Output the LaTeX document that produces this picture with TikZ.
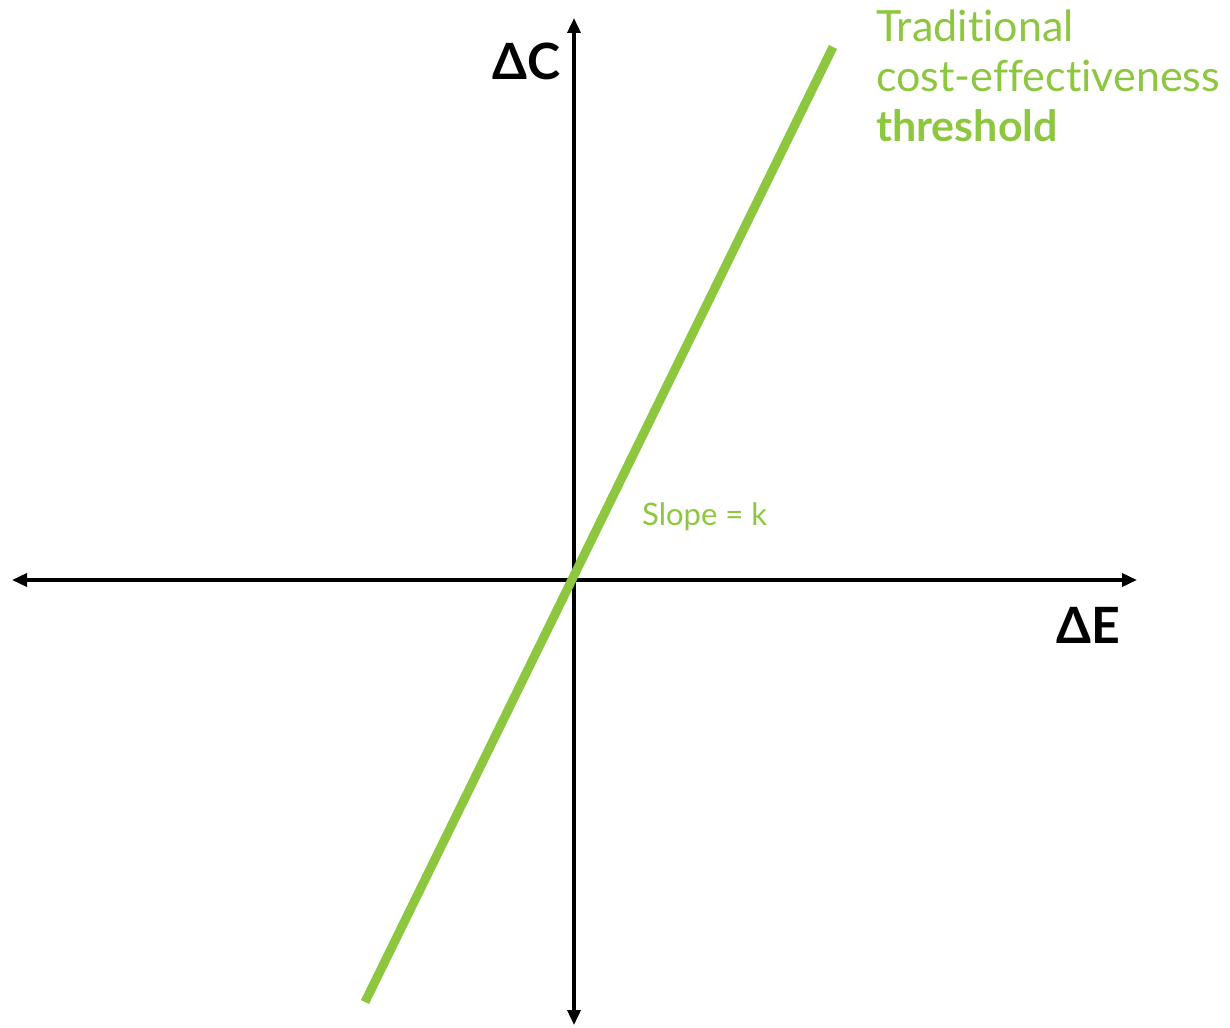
\documentclass[tikz,border=0pt]{standalone}
\usepackage{fontspec}
\setmainfont[Ligatures=NoCommon]{Lato}
\usetikzlibrary{arrows.meta,positioning}
\definecolor{kgreen}{HTML}{8DC63F}

\begin{document}
\begin{tikzpicture}[x=1pt,y=-1pt,
    axis/.style={line width=3.5pt,{Triangle[length=15pt,width=13pt]}-{Triangle[length=15pt,width=13pt]}},
    threshold/.style={line width=9pt,kgreen},
    axlabel/.style={anchor=base west,inner sep=0pt,font=\fontsize{50}{50}\selectfont\bfseries},
    glabel/.style={anchor=base west,inner sep=0pt,text=kgreen,font=\fontsize{43}{50}\selectfont}]
    \useasboundingbox (0,0) rectangle (1230,1027);
    % axes
    \coordinate (west) at (12,580);
    \coordinate (east) at (1137,580);
    \coordinate (north) at (574,18);
    \coordinate (south) at (574,1025);
    \draw[axis] (west) -- (east);
    \draw[axis] (south) -- (north);
    \node[axlabel] (dC) at (492,80) {ΔC};
    \node[axlabel] (dE) at (1056,643) {ΔE};
    % threshold line
    \coordinate (lo) at (365,1002);
    \coordinate (hi) at (833,47);
    \draw[threshold] (lo) -- (hi);
    \node[glabel] (thr1) at (876,42) {Traditional};
    \node[glabel] (thr2) at (876,92) {cost-effectiveness};
    \node[glabel] (thr3) at (876,142) {\bfseries threshold};
    \node[glabel,font=\fontsize{31}{34}\selectfont] (slope) at (642,525) {Slope = k};
\end{tikzpicture}
\end{document}
